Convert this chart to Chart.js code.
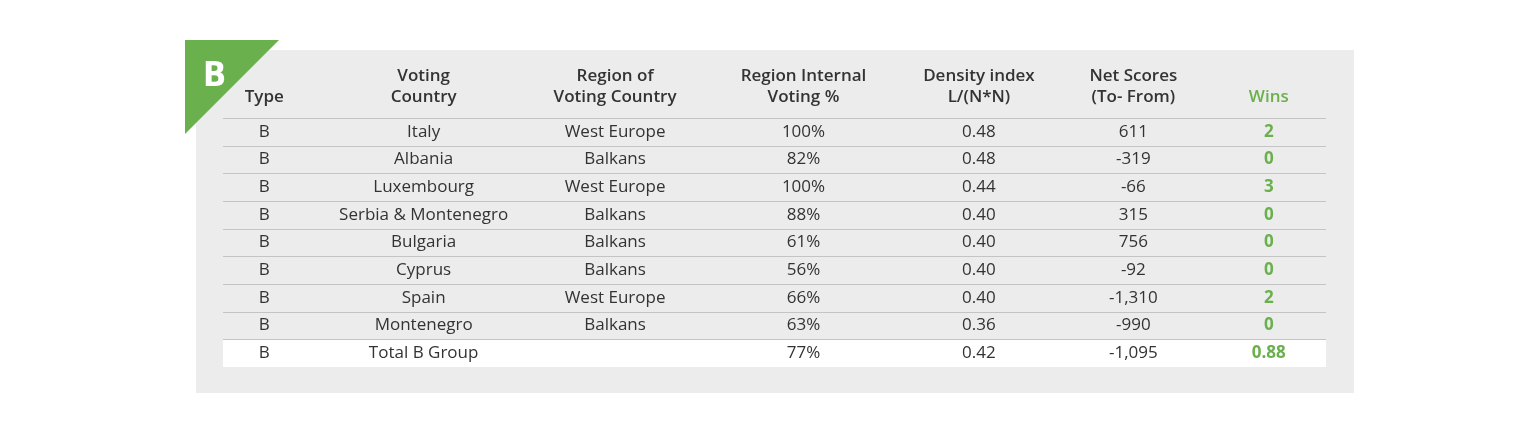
<!DOCTYPE html><html><head><meta charset="utf-8">
<script src="https://cdn.jsdelivr.net/npm/chart.js@4"></script>
<style>html,body{margin:0;padding:0;background:#fff}#w{width:1540px;height:435px}</style></head><body>
<div id="w"><canvas id="c"></canvas></div>
<script>
const headers=[["Type"],["Voting","Country"],["Region of","Voting Country"],["Region Internal","Voting %"],["Density index","L/(N*N)"],["Net Scores","(To- From)"],["Wins"]];
const types=["B","B","B","B","B","B","B","B","B"];
const countries=["Italy","Albania","Luxembourg","Serbia & Montenegro","Bulgaria","Cyprus","Spain","Montenegro","Total B Group"];
const regions=["West Europe","Balkans","West Europe","Balkans","Balkans","Balkans","West Europe","Balkans",""];
const internal=["100%","82%","100%","88%","61%","56%","66%","63%","77%"];
const density=["0.48","0.48","0.44","0.40","0.40","0.40","0.40","0.36","0.42"];
const netScores=["611","-319","-66","315","756","-92","-1,310","-990","-1,095"];
const wins=["2","0","3","0","0","0","2","0","0.88"];
const cols=[types,countries,regions,internal,density,netScores,wins];
const colNudge=[-3,-10,15,37,46,34,3];
const F="'Open Sans', sans-serif";
const tablePlugin={id:'tbl',
beforeDraw(ch){const c=ch.ctx,a=ch.chartArea,y=ch.scales.y;c.save();
 c.fillStyle='#ececec';c.fillRect(196,50,1158,343);
 const step=(a.bottom-a.top)/countries.length;
 c.fillStyle='#fff';c.fillRect(223,y.getPixelForValue(countries.length-1)-step/2,1103,step);
 c.strokeStyle='#c4c4c4';c.lineWidth=1.2;
 for(let i=0;i<countries.length;i++){const yy=Math.round(y.getPixelForValue(i)-step/2)+0.5;c.beginPath();c.moveTo(223,yy);c.lineTo(1326,yy);c.stroke();}
 c.fillStyle='#6ab04c';c.beginPath();c.moveTo(185,40);c.lineTo(279,40);c.lineTo(185,134);c.closePath();c.fill();
 c.fillStyle='#fff';c.font="bold 34px 'Liberation Sans Narrow','DejaVu Sans Condensed',sans-serif";c.textBaseline='alphabetic';c.textAlign='left';c.fillText('B',203,86);
 c.restore();},
afterDraw(ch){const c=ch.ctx,x=ch.scales.x,y=ch.scales.y;c.save();c.textAlign='center';c.textBaseline='middle';
 headers.forEach((h,j)=>{const cx=x.getPixelForValue(j)+colNudge[j];c.font="600 17px "+F;c.fillStyle=j==6?'#6ab04c':'#333';
  if(h.length==1)c.fillText(h[0],cx,97);else{c.fillText(h[0],cx,76);c.fillText(h[1],cx,97);}});
 cols.forEach((col,j)=>{const cx=x.getPixelForValue(j)+colNudge[j];col.forEach((v,i)=>{
  c.font=(j==6?"bold ":"")+"17px "+F;c.fillStyle=j==6?'#6ab04c':'#333';c.fillText(v,cx,y.getPixelForValue(i));});});
 c.restore();}};
new Chart(document.getElementById('c'),{type:'scatter',
data:{datasets:[{data:[],pointRadius:0}]},
options:{responsive:true,maintainAspectRatio:false,animation:false,
 layout:{padding:{left:184,right:191,top:118,bottom:68}},
 plugins:{legend:{display:false},tooltip:{enabled:false}},
 scales:{x:{type:'category',labels:headers.map(h=>h.join(' ')),offset:true,display:false},
  y:{type:'category',labels:countries,offset:true,display:false}}},
plugins:[tablePlugin]});
</script></body></html>
